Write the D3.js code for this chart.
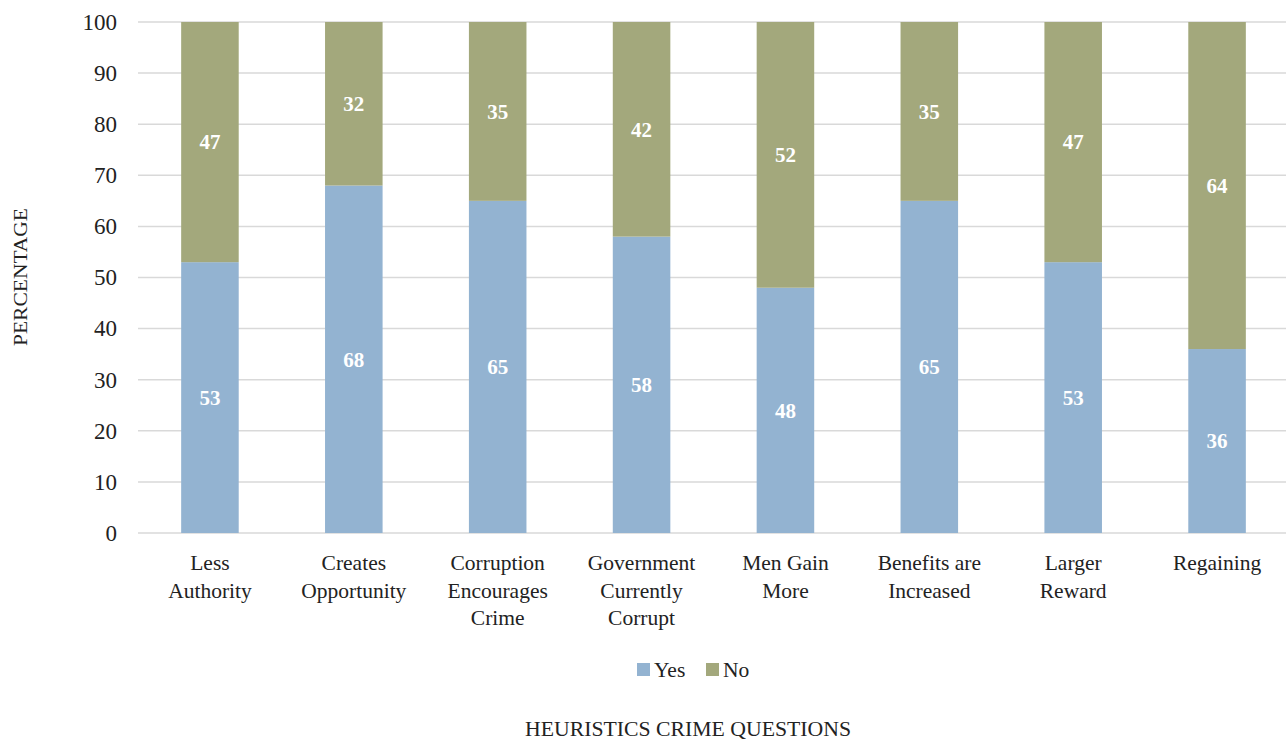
<!DOCTYPE html>
<html>
<head>
<meta charset="utf-8">
<script src="https://cdn.jsdelivr.net/npm/d3@7"></script>
<style>
  html, body { margin: 0; padding: 0; background: #fff; overflow: hidden; }
  svg { display: block; font-family: "Liberation Serif", "Times New Roman", serif; }
</style>
</head>
<body>
<svg id="chart" width="1286" height="742"></svg>
<script>
// Survey responses per heuristic question (percent)
const categories = [
  ["Less", "Authority"],
  ["Creates", "Opportunity"],
  ["Corruption", "Encourages", "Crime"],
  ["Government", "Currently", "Corrupt"],
  ["Men Gain", "More"],
  ["Benefits are", "Increased"],
  ["Larger", "Reward"],
  ["Regaining"]
];
const yesValues = [53, 68, 65, 58, 48, 65, 53, 36];
const noValues  = [47, 32, 35, 42, 52, 35, 47, 64];
const seriesNames = ["Yes", "No"];
const yTicks = [0, 10, 20, 30, 40, 50, 60, 70, 80, 90, 100];

const colors = { Yes: "#93b3d1", No: "#a3a87c" };

const svg = d3.select("#chart");
const W = 1286, H = 742;
const plotLeft = 138, plotRight = 1289, plotTop = 22, plotBottom = 533;

const keys = categories.map((c, i) => i);
const x = d3.scaleBand().domain(keys).range([plotLeft, plotRight]).paddingInner(0.6).paddingOuter(0.3);
const y = d3.scaleLinear().domain([0, 100]).range([plotBottom, plotTop]);

// Gridlines
svg.append("g")
  .selectAll("line")
  .data(yTicks)
  .join("line")
  .attr("x1", plotLeft)
  .attr("x2", W)
  .attr("y1", d => y(d))
  .attr("y2", d => y(d))
  .attr("stroke", "#d9d9d9")
  .attr("stroke-width", 1.5);

// Y axis tick labels
const yAxis = d3.axisLeft(y).tickValues(yTicks).tickSize(0).tickPadding(21);
const gy = svg.append("g").attr("transform", `translate(${plotLeft},0)`).call(yAxis);
gy.select(".domain").remove();
gy.attr("font-family", null);
gy.selectAll("text")
  .attr("font-family", "Liberation Serif, serif")
  .attr("font-size", 23)
  .attr("fill", "#222");

// Stacked data
const rows = keys.map(i => ({ i, Yes: yesValues[i], No: noValues[i] }));
const stacked = d3.stack().keys(seriesNames)(rows);

const layers = svg.append("g")
  .selectAll("g")
  .data(stacked)
  .join("g")
  .attr("fill", d => colors[d.key]);

layers.selectAll("rect")
  .data(d => d)
  .join("rect")
  .attr("x", d => x(d.data.i))
  .attr("width", x.bandwidth())
  .attr("y", d => y(d[1]))
  .attr("height", d => y(d[0]) - y(d[1]));

// Value labels
layers.selectAll("text")
  .data(d => d.map(v => Object.assign(v, { key: d.key })))
  .join("text")
  .attr("x", d => x(d.data.i) + x.bandwidth() / 2)
  .attr("y", d => y((d[0] + d[1]) / 2))
  .attr("dy", "0.35em")
  .attr("text-anchor", "middle")
  .attr("fill", "#fff")
  .attr("font-weight", "bold")
  .attr("font-size", 21)
  .text(d => d.data[d.key]);

// Category labels
const catG = svg.append("g");
categories.forEach((lines, i) => {
  const cx = x(i) + x.bandwidth() / 2;
  const t = catG.append("text")
    .attr("x", cx)
    .attr("y", 570)
    .attr("text-anchor", "middle")
    .attr("font-size", 21.5)
    .attr("fill", "#222");
  lines.forEach((ln, j) => {
    t.append("tspan")
      .attr("x", cx)
      .attr("dy", j === 0 ? 0 : 27.5)
      .text(ln);
  });
});

// Legend
const legend = svg.append("g").attr("transform", "translate(637,669)");
const legendItems = [
  { name: "Yes", x: 0 },
  { name: "No", x: 69 }
];
legendItems.forEach(it => {
  legend.append("rect")
    .attr("x", it.x).attr("y", -6)
    .attr("width", 13).attr("height", 13)
    .attr("fill", colors[it.name]);
  legend.append("text")
    .attr("x", it.x + 17).attr("y", 0)
    .attr("dy", "0.35em")
    .attr("font-size", 21.5)
    .attr("fill", "#222")
    .text(it.name);
});

// Axis titles
svg.append("text")
  .attr("transform", `translate(27,277) rotate(-90)`)
  .attr("text-anchor", "middle")
  .attr("font-size", 19)
  .attr("textLength", 138)
  .attr("lengthAdjust", "spacingAndGlyphs")
  .attr("fill", "#222")
  .text("PERCENTAGE");

svg.append("text")
  .attr("x", 688)
  .attr("y", 736)
  .attr("text-anchor", "middle")
  .attr("font-size", 20)
  .attr("textLength", 326)
  .attr("lengthAdjust", "spacingAndGlyphs")
  .attr("fill", "#222")
  .text("HEURISTICS CRIME QUESTIONS");
</script>
</body>
</html>
